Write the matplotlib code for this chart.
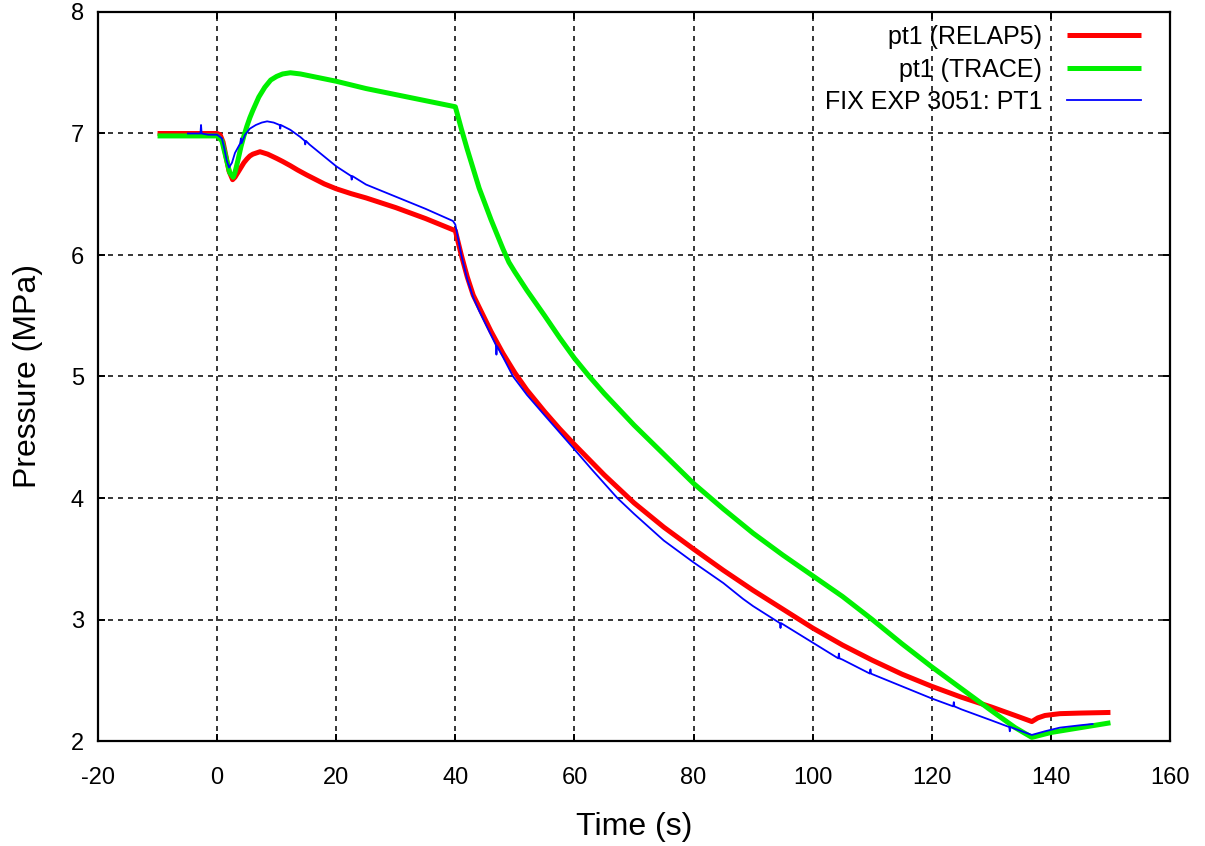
import matplotlib
matplotlib.use("Agg")
import matplotlib.pyplot as plt

plt.rcParams['font.family'] = ['Liberation Sans', 'DejaVu Sans']
plt.rcParams['lines.scale_dashes'] = False

# RELAP5 calculation, pressure at pt1
t_relap = [-10, 0, 0.5, 1.0, 1.5, 2.0, 2.6, 3.0, 3.5, 4.0, 4.5, 5.0, 5.5, 6.0, 7.2, 8.5, 10,
           11, 12.3, 13.5, 15, 16.2, 18, 20, 22.5, 25, 30, 35, 40, 41, 42, 43, 44, 45, 46, 47,
           48, 49, 50, 51, 52, 53, 55, 57.5, 60, 65, 70, 75, 80, 85, 90, 95, 100, 105, 110,
           115, 120, 125, 130, 134, 136.8, 137.8, 139, 141.5, 145, 150]
p_relap = [7.0, 7.0, 6.99, 6.93, 6.81, 6.69, 6.62, 6.64, 6.68, 6.72, 6.76, 6.79, 6.815, 6.83,
           6.85, 6.83, 6.795, 6.77, 6.735, 6.70, 6.66, 6.63, 6.585, 6.545, 6.505, 6.47, 6.39,
           6.30, 6.20, 6.00, 5.82, 5.67, 5.57, 5.47, 5.37, 5.28, 5.19, 5.11, 5.03, 4.96, 4.89,
           4.83, 4.71, 4.57, 4.44, 4.19, 3.96, 3.76, 3.58, 3.405, 3.24, 3.085, 2.93, 2.79,
           2.665, 2.55, 2.45, 2.36, 2.28, 2.21, 2.16, 2.19, 2.21, 2.225, 2.23, 2.235]

# TRACE calculation, pressure at pt1
t_trace = [-10, 0, 0.8, 1.5, 2.1, 2.7, 3.0, 3.5, 4.0, 4.5, 5.0, 5.5, 6, 7, 8, 9, 10, 11, 12.3,
           14, 16, 18, 20, 25, 30, 35, 40, 41, 42, 43, 44, 45, 46, 47, 48, 49, 50, 51, 52, 53,
           55, 57.5, 60, 62.5, 65, 70, 75, 80, 85, 90, 95, 100, 105, 110, 115, 120, 125, 130,
           134, 136.8, 140, 145, 150]
p_trace = [6.98, 6.98, 6.94, 6.80, 6.68, 6.64, 6.68, 6.78, 6.89, 6.98, 7.06, 7.13, 7.19, 7.30,
           7.38, 7.44, 7.47, 7.49, 7.50, 7.49, 7.47, 7.45, 7.43, 7.37, 7.32, 7.27, 7.22, 7.04,
           6.87, 6.71, 6.55, 6.42, 6.29, 6.17, 6.05, 5.94, 5.86, 5.785, 5.71, 5.64, 5.50,
           5.32, 5.15, 5.00, 4.86, 4.60, 4.36, 4.12, 3.91, 3.71, 3.53, 3.36, 3.19, 3.00, 2.80,
           2.61, 2.43, 2.25, 2.11, 2.03, 2.07, 2.11, 2.15]

# Facility measurement, run 3051, transducer PT1
t_exp = [-4.9, -3.5, -2.8, -2.7, -2.6, -1.5, 0, 0.8, 1.2, 1.6, 2.0, 2.5, 3.0, 3.9, 4.0, 4.1,
         4.7, 5.5, 6.5, 7.5, 8.4, 9.5, 10.5, 10.6, 10.7, 12.3, 14, 14.7, 14.8, 14.9, 15.5, 17,
         18.5, 20, 22.5, 22.6, 22.7, 25, 27.5, 30, 35, 39.6, 40, 41, 42, 43, 44, 45, 46,
         46.8, 46.9, 47.0, 48, 49.7, 52, 55, 57.5, 60, 63, 67.2, 70, 75, 80, 85, 88.3, 90,
         94.5, 94.6, 94.7, 100, 104.3, 104.4, 104.5, 105, 109.6, 109.7, 109.8, 110, 115, 120,
         123.6, 123.7, 123.8, 125, 130, 133, 133.1, 133.2, 134, 136.8, 139, 141.5, 145, 147]
p_exp = [7.0, 7.0, 7.0, 7.07, 7.0, 6.99, 6.99, 6.96, 6.88, 6.78, 6.72, 6.76, 6.84, 6.92, 6.96,
         6.92, 6.99, 7.04, 7.07, 7.09, 7.10, 7.09, 7.07, 7.04, 7.07, 7.03, 6.97, 6.94, 6.91,
         6.94, 6.91, 6.85, 6.79, 6.73, 6.65, 6.62, 6.65, 6.58, 6.53, 6.48, 6.38, 6.28, 6.25,
         6.00, 5.80, 5.65, 5.54, 5.44, 5.34, 5.26, 5.18, 5.25, 5.16, 5.00, 4.85, 4.68, 4.54,
         4.40, 4.23, 4.00, 3.87, 3.65, 3.47, 3.30, 3.17, 3.11, 2.97, 2.93, 2.97, 2.81, 2.68,
         2.72, 2.68, 2.67, 2.555, 2.59, 2.555, 2.55, 2.45, 2.35, 2.285, 2.32, 2.285, 2.26,
         2.17, 2.115, 2.08, 2.115, 2.10, 2.05, 2.08, 2.11, 2.13, 2.14]

x_ticks = [-20, 0, 20, 40, 60, 80, 100, 120, 140, 160]
y_ticks = [2, 3, 4, 5, 6, 7, 8]

fig = plt.figure(figsize=(12.05, 8.46), dpi=100)
ax = fig.add_axes([98 / 1205, 1 - 741 / 846, 1072 / 1205, 729 / 846])

ax.plot(t_relap, p_relap, color='#ff0000', lw=3.6, solid_joinstyle='round',
        solid_capstyle='butt', label='pt1 (RELAP5)', zorder=3)
ax.plot(t_trace, p_trace, color='#00f000', lw=3.6, solid_joinstyle='round',
        solid_capstyle='butt', label='pt1 (TRACE)', zorder=4)
ax.plot(t_exp, p_exp, color='#0000ff', lw=1.3, label='FIX EXP 3051: PT1', zorder=5)

ax.set_xlim(-20, 160)
ax.set_ylim(2, 8)
ax.set_xticks(x_ticks)
ax.set_yticks(y_ticks)
ax.set_xticklabels([str(v) for v in x_ticks])
ax.set_yticklabels([str(v) for v in y_ticks])

ax.grid(True, color='black', lw=1.1, linestyle=(0, (3.6, 3.6)), zorder=1)
ax.set_axisbelow(True)
for s in ax.spines.values():
    s.set_linewidth(1.6)

ax.tick_params(axis='both', direction='in', length=5, width=1.4, labelsize=17,
               top=True, right=True)
ax.tick_params(axis='x', pad=19)
ax.tick_params(axis='y', pad=10)

ax.set_xlabel('Time (s)', fontsize=23)
ax.set_ylabel('Pressure (MPa)', fontsize=23)
ax.xaxis.label.set_va('center')
ax.yaxis.label.set_va('center')
ax.xaxis.set_label_coords(0.5, -(827 - 741) / 729)
ax.yaxis.set_label_coords(-(98 - 28) / 1072, 0.5)

leg = ax.legend(loc='upper right', bbox_to_anchor=((1141 - 98) / 1072, (741 - 25) / 729),
                frameon=False, markerfirst=False, fontsize=18, handlelength=2.95,
                handletextpad=1.0, labelspacing=0.34, borderaxespad=0, borderpad=0)
for txt in leg.get_texts():
    txt.set_ha('right')
leg._legend_box.align = 'right'

fig.savefig('out.png', dpi=100)
